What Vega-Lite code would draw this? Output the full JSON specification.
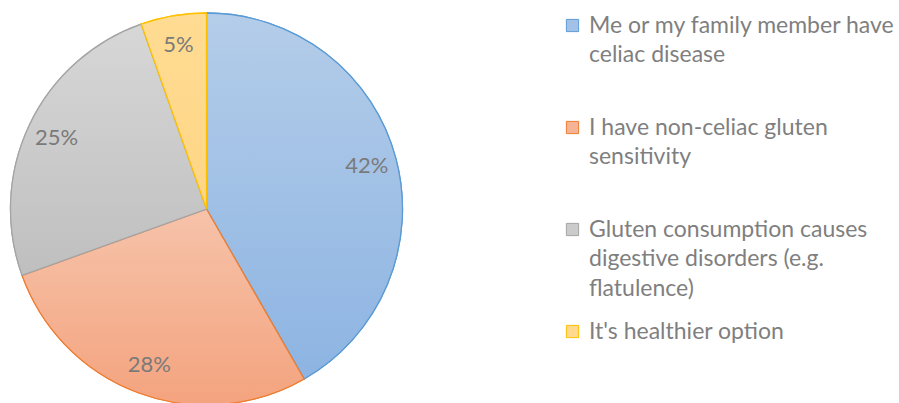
{
  "$schema": "https://vega.github.io/schema/vega-lite/v6.json",
  "width": 413,
  "height": 418,
  "padding": 0,
  "background": "white",
  "config": {"view": {"stroke": null}, "font": "Lato"},
  "data": {
    "values": [
      {"reason": "Me or my family member have celiac disease", "share": 0.417, "pct": "42%", "o": 1},
      {"reason": "I have non-celiac gluten sensitivity", "share": 0.278, "pct": "28%", "o": 2},
      {"reason": "Gluten consumption causes digestive disorders (e.g. flatulence)", "share": 0.251, "pct": "25%", "o": 3},
      {"reason": "It's healthier option", "share": 0.054, "pct": "5%", "o": 4}
    ]
  },
  "transform": [
    {"stack": "share", "groupby": [], "sort": [{"field": "o", "order": "ascending"}], "as": ["t0", "t1"]}
  ],
  "resolve": {"scale": {"theta": "shared"}},
  "layer": [
    {
      "mark": {"type": "arc", "radius": 196, "strokeWidth": 1.3},
      "encoding": {
        "theta": {"field": "t0", "type": "quantitative", "scale": {"domain": [0, 1]}},
        "theta2": {"field": "t1"},
        "fill": {
          "field": "reason", "type": "nominal",
          "scale": {
            "domain": ["Me or my family member have celiac disease", "I have non-celiac gluten sensitivity", "Gluten consumption causes digestive disorders (e.g. flatulence)", "It's healthier option"],
            "range": ["#a3c1e6", "#f5b496", "#cbcbcb", "#fed98e"]
          },
          "legend": {
            "title": null, "orient": "none", "legendX": 561, "legendY": 14, "padding": 0,
            "symbolType": "square", "symbolSize": 150, "symbolStrokeWidth": 1,
            "labelFont": "Lato", "labelFontSize": 23, "labelColor": "#7f7f7f", "labelLimit": 400,
            "labelOffset": 5, "rowPadding": 19, "gridAlign": "all",
            "encode": {"labels": {"update": {"lineHeight": {"value": 29.5}}}},
            "labelExpr": "datum.value == 'Me or my family member have celiac disease' ? ['Me or my family member have', 'celiac disease'] : datum.value == 'I have non-celiac gluten sensitivity' ? ['I have non-celiac gluten', 'sensitivity'] : datum.value == \"It's healthier option\" ? datum.value : ['Gluten consumption causes', 'digestive disorders (e.g.', 'flatulence)']"
          }
        },
        "stroke": {
          "field": "reason", "type": "nominal",
          "scale": {
            "domain": ["Me or my family member have celiac disease", "I have non-celiac gluten sensitivity", "Gluten consumption causes digestive disorders (e.g. flatulence)", "It's healthier option"],
            "range": ["#5b9bd5", "#ed7d31", "#a5a5a5", "#ffc000"]
          },
          "legend": {
            "title": null, "orient": "none", "legendX": 561, "legendY": 14, "padding": 0,
            "symbolType": "square", "symbolSize": 150, "symbolStrokeWidth": 1,
            "labelFont": "Lato", "labelFontSize": 23, "labelColor": "#7f7f7f", "labelLimit": 400,
            "labelOffset": 5, "rowPadding": 19, "gridAlign": "all",
            "encode": {"labels": {"update": {"lineHeight": {"value": 29.5}}}},
            "labelExpr": "datum.value == 'Me or my family member have celiac disease' ? ['Me or my family member have', 'celiac disease'] : datum.value == 'I have non-celiac gluten sensitivity' ? ['I have non-celiac gluten', 'sensitivity'] : datum.value == \"It's healthier option\" ? datum.value : ['Gluten consumption causes', 'digestive disorders (e.g.', 'flatulence)']"
          }
        }
      }
    },
    {
      "transform": [{"filter": "datum.o == 1"}],
      "mark": {"type": "arc", "radius": 196, "strokeWidth": 1.3, "stroke": "#5b9bd5",
        "fill": {"gradient": "linear", "x1": 0, "y1": 0, "x2": 0, "y2": 1, "stops": [{"offset": 0, "color": "#b4cde9"}, {"offset": 1, "color": "#8db4e2"}]}},
      "encoding": {
        "theta": {"field": "t0", "type": "quantitative"},
        "theta2": {"field": "t1"}
      }
    },
    {
      "transform": [{"filter": "datum.o == 2"}],
      "mark": {"type": "arc", "radius": 196, "strokeWidth": 1.3, "stroke": "#ed7d31",
        "fill": {"gradient": "linear", "x1": 0, "y1": 0, "x2": 0, "y2": 1, "stops": [{"offset": 0, "color": "#f6c3aa"}, {"offset": 1, "color": "#f4a37e"}]}},
      "encoding": {
        "theta": {"field": "t0", "type": "quantitative"},
        "theta2": {"field": "t1"}
      }
    },
    {
      "transform": [{"filter": "datum.o == 3"}],
      "mark": {"type": "arc", "radius": 196, "strokeWidth": 1.3, "stroke": "#a5a5a5",
        "fill": {"gradient": "linear", "x1": 0, "y1": 0, "x2": 0, "y2": 1, "stops": [{"offset": 0, "color": "#d7d7d7"}, {"offset": 1, "color": "#bfbfbf"}]}},
      "encoding": {
        "theta": {"field": "t0", "type": "quantitative"},
        "theta2": {"field": "t1"}
      }
    },
    {
      "transform": [{"filter": "datum.o == 4"}],
      "mark": {"type": "arc", "radius": 196, "strokeWidth": 1.3, "stroke": "#ffc000",
        "fill": {"gradient": "linear", "x1": 0, "y1": 0, "x2": 0, "y2": 1, "stops": [{"offset": 0, "color": "#ffdc93"}, {"offset": 1, "color": "#fed585"}]}},
      "encoding": {
        "theta": {"field": "t0", "type": "quantitative"},
        "theta2": {"field": "t1"}
      }
    },
    {
      "mark": {"type": "text", "radius": 166, "font": "Lato", "fontSize": 22, "fill": "#7a7a7a"},
      "encoding": {
        "theta": {"field": "share", "type": "quantitative", "stack": true},
        "order": {"field": "o", "type": "quantitative"},
        "detail": {"field": "reason", "type": "nominal"},
        "text": {"field": "pct", "type": "nominal"}
      }
    }
  ]
}
